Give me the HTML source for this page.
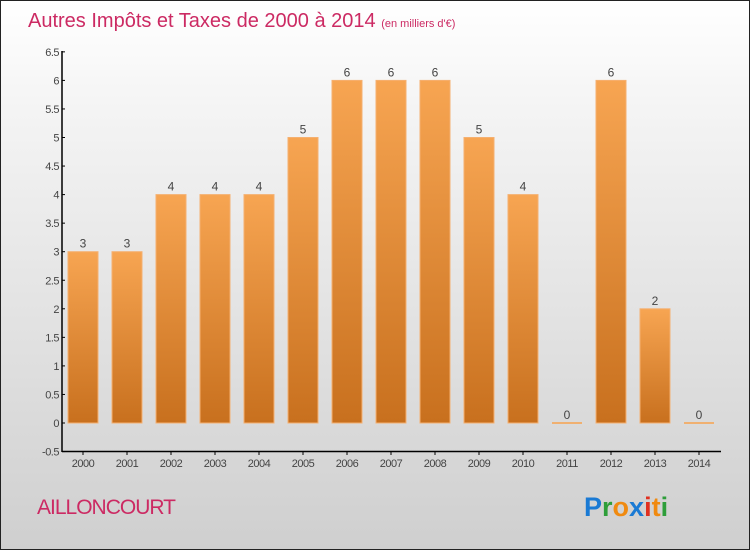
<!DOCTYPE html>
<html><head><meta charset="utf-8"><style>
body{margin:0}
#c{width:748px;height:548px;border:1px solid #222;background:linear-gradient(#ffffff,#f4f4f4 20%,#cfcfcf);position:relative;overflow:hidden;font-family:"Liberation Sans",sans-serif}
</style></head><body>
<div id="c">
<svg id="s" width="748" height="548" style="position:absolute;left:0;top:0">
<defs><linearGradient id="g" x1="0" y1="0" x2="0" y2="1"><stop offset="0" stop-color="#f7a552"/><stop offset="1" stop-color="#c8701e"/></linearGradient></defs>
<text x="27" y="26" font-size="20" fill="#cc2a63">Autres Impôts et Taxes de 2000 à 2014 <tspan font-size="11">(en milliers d'€)</tspan></text>
<text x="36" y="513" font-size="21" fill="#cc2a63" letter-spacing="-1">AILLONCOURT</text>
<g font-size="27" font-weight="bold">
<text x="583" y="515"><tspan fill="#1a7ad4">P</tspan><tspan fill="#2e9e3a">r</tspan><tspan fill="#f08a10">o</tspan><tspan fill="#1a7ad4">x</tspan><tspan fill="#e03020">i</tspan><tspan fill="#f08a10">t</tspan><tspan fill="#2e9e3a">i</tspan></text></g>
<g id="axes"></g><g id="bars"></g>
</svg></div>
<script>
const years=["2000","2001","2002","2003","2004","2005","2006","2007","2008","2009","2010","2011","2012","2013","2014"];
const values=[3,3,4,4,4,5,6,6,6,5,4,0,6,2,0];
const yTicks=[-0.5,0,0.5,1,1.5,2,2.5,3,3.5,4,4.5,5,5.5,6,6.5];
const NS="http://www.w3.org/2000/svg";
const y=v=>422-v*57.1;
const x=i=>82+i*44;
function mk(t,a,p){const e=document.createElementNS(NS,t);for(const k in a)e.setAttribute(k,a[k]);p.appendChild(e);return e;}
const ax=document.getElementById('axes'),bg=document.getElementById('bars');
let l=mk('line',{x1:61,y1:50,x2:61,y2:451,stroke:'#000','stroke-width':1.5},ax);


l=mk('line',{x1:61,y1:450.5,x2:720,y2:450.5,stroke:'#000','stroke-width':1.5},ax);


yTicks.forEach(v=>{mk('line',{x1:61,y1:y(v),x2:64,y2:y(v),stroke:'#000'},ax);
const t=mk('text',{x:58,y:y(v)+4,'font-size':11,fill:'#444','text-anchor':'end','letter-spacing':'-0.5'},ax);t.textContent=v;

});
years.forEach((yr,i)=>{mk('line',{x1:x(i),y1:450,x2:x(i),y2:454,stroke:'#000'},ax);
const t=mk('text',{x:x(i),y:466,'font-size':11,fill:'#444','text-anchor':'middle','letter-spacing':'-0.5'},ax);t.textContent=yr;


const v=values[i];let r;
if(v===0){r=mk('rect',{x:x(i)-15,y:y(0)-1,width:30,height:2,fill:'#f0b070'},bg);}
else r=mk('rect',{x:x(i)-15,y:y(v),width:30,height:y(0)-y(v),fill:'url(#g)',stroke:'#f5b070','stroke-width':1},bg);


const lb=mk('text',{x:x(i),y:y(v)-4,'font-size':12,fill:'#444','text-anchor':'middle'},bg);lb.textContent=v;

});
</script>
</body></html>
